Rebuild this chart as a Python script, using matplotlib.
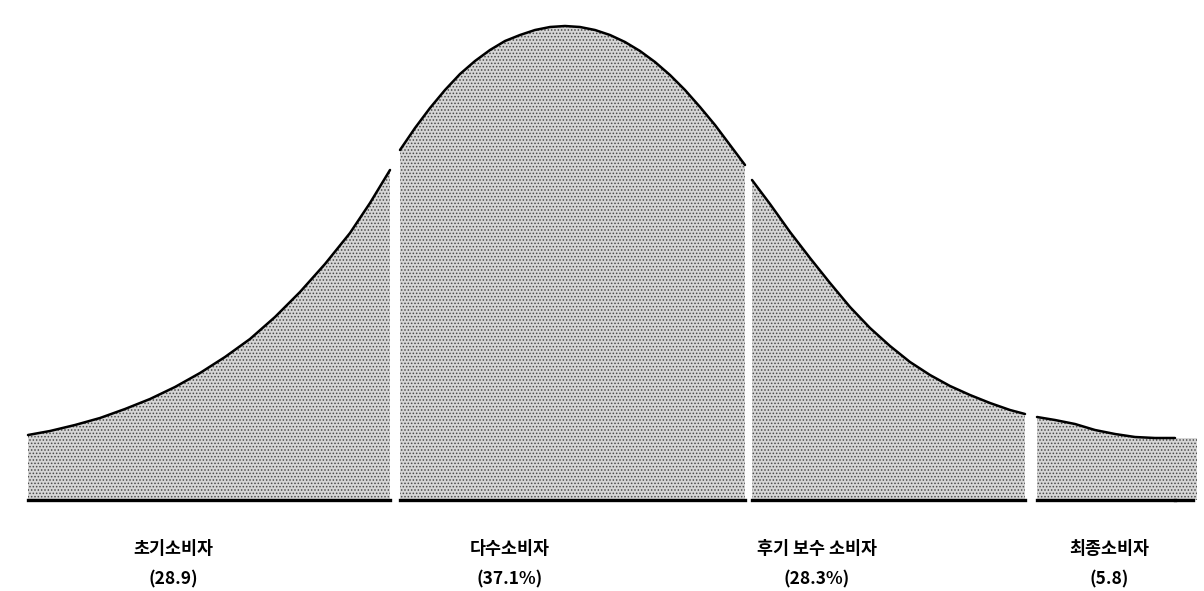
import matplotlib.pyplot as plt

plt.rcParams['font.family'] = ['Noto Sans CJK KR', 'DejaVu Sans']
plt.rcParams['hatch.linewidth'] = 0.7

# curve read per segment: x position and height above the baseline
left_x = [28, 50, 75, 100, 125, 150, 175, 200, 225, 250, 275, 300, 325, 350, 370, 390]
left_h = [65, 69, 75, 82, 91, 101, 113, 127, 143, 161, 183, 208, 236, 267, 297, 330]

mid_x = [400, 415, 430, 445, 460, 475, 490, 505, 520, 535, 550, 565,
         580, 595, 610, 625, 640, 655, 670, 685, 700, 715, 730, 745]
mid_h = [350, 372, 392, 410, 426, 439, 450, 459, 465, 470, 473, 474,
         473, 470, 465, 458, 449, 438, 425, 410, 393, 375, 355, 335]

right_x = [752, 770, 790, 810, 830, 850, 870, 890, 910, 930, 950, 970, 990, 1010, 1025]
right_h = [320, 296, 268, 242, 217, 193, 172, 154, 138, 125, 114, 105, 97, 90, 86]

tail_x = [1037, 1055, 1075, 1095, 1115, 1135, 1155, 1175]
tail_h = [83, 80, 76, 70, 66, 63, 62, 62]

groups = ['초기소비자', '다수소비자', '후기 보수 소비자', '최종소비자']
shares = ['(28.9)', '(37.1%)', '(28.3%)', '(5.8)']

fig = plt.figure(figsize=(12.04, 5.91), dpi=100)
ax = fig.add_axes([0, 0, 1, 1])
ax.set_xlim(0, 1204)
ax.set_ylim(-91, 500)
ax.axis('off')

segments = [(left_x, left_h), (mid_x, mid_h), (right_x, right_h), (tail_x, tail_h)]
for xs, hs in segments:
    ax.fill_between(xs, 0, hs, facecolor='#d6d6d6', edgecolor='#4a4a4a',
                    hatch='.....', linewidth=0)
    ax.plot(xs, hs, color='black', lw=1.8, solid_capstyle='round',
            solid_joinstyle='round')
    ax.plot([xs[0], xs[-1]], [0, 0], color='black', lw=2.4)

# last group runs past the drawn curve without an outline
ax.fill_between([tail_x[-1], 1197], 0, tail_h[-1], facecolor='#d6d6d6',
                edgecolor='#4a4a4a', hatch='.....', linewidth=0)
ax.plot([tail_x[-1], 1193], [0, 0], color='black', lw=2.4)

label_x = [173, 510, 817, 1109]
for lx, g, s in zip(label_x, groups, shares):
    ax.text(lx, -49, g, ha='center', va='center', fontsize=12.5, fontweight='bold')
    ax.text(lx, -79, s, ha='center', va='center', fontsize=12.5, fontweight='bold')

fig.savefig('out.png', dpi=100)
